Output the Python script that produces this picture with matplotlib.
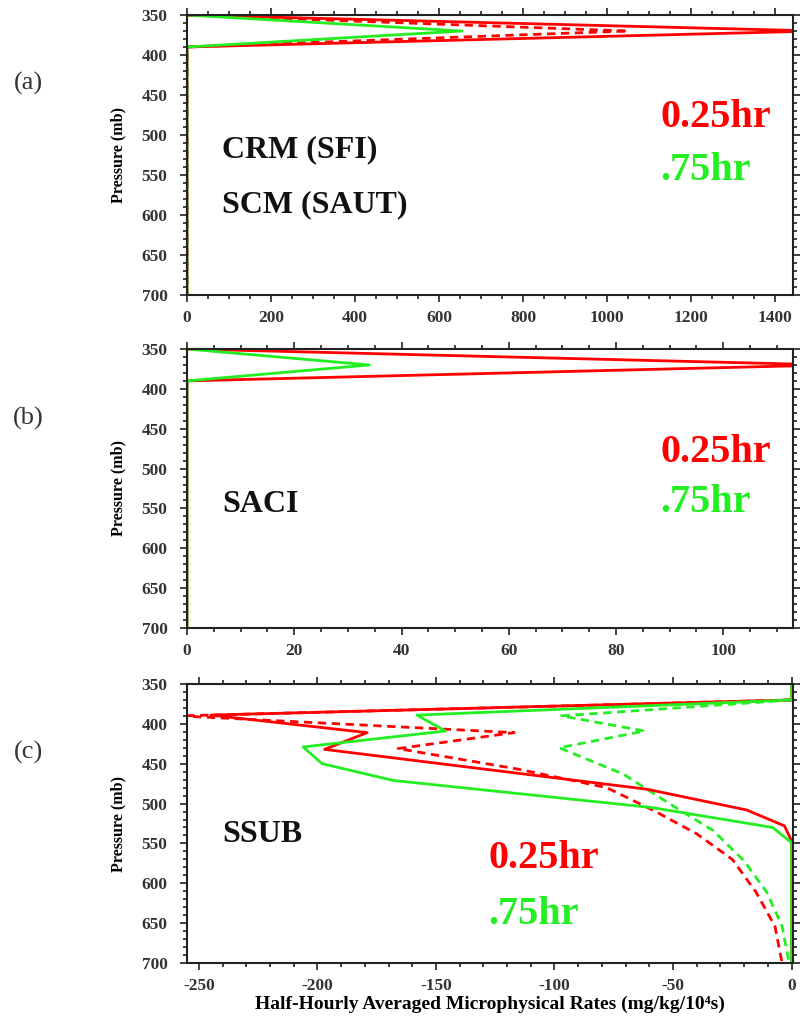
import matplotlib
matplotlib.use("Agg")
import matplotlib.pyplot as plt
from matplotlib.ticker import MultipleLocator

plt.rcParams["axes.unicode_minus"] = False

# ---------------- data ----------------
# panel (a) CRM (SFI) / SCM (SAUT)
p_ab = [350, 370, 390, 700]
a_red_solid = [0, 1500, 0, 0]
a_red_dash = [0, 1050, 0, 0]
a_green_solid = [0, 655, 0, 0]

# panel (b) SACI
b_red_solid = [0, 120, 0, 0]
b_green_solid = [0, 34, 0, 0]

# panel (c) SSUB
c_p_red_solid = [350, 370, 389, 411, 432, 482, 508, 528, 547, 700]
c_red_solid = [0, 0, -245, -179, -197, -61, -19, -3, 0, 0]
c_p_green_solid = [350, 370, 389, 409, 429, 450, 471, 505, 530, 549, 700]
c_green_solid = [0, 0, -158, -146, -206, -198, -168, -59, -8, 0, 0]
c_p_red_dash = [370, 390, 411, 431, 457, 480, 509, 538, 570, 611, 654, 700]
c_red_dash = [0, -258, -117, -166, -115, -78, -58, -40, -25, -15, -7, -4]
c_p_green_dash = [370, 390, 409, 430, 463, 501, 534, 572, 611, 654, 700]
c_green_dash = [0, -97, -62, -98, -71, -51, -33, -20, -10.5, -4, -1]

RED = "#ff0000"
GREEN = "#22ee22"
SERIF = ["Liberation Serif", "DejaVu Serif"]

W, H = 800, 1026
fig = plt.figure(figsize=(W / 100, H / 100), dpi=100)


def make_axes(top_px, bot_px):
    left = 187 / W
    width = (793 - 187) / W
    bottom = 1 - bot_px / H
    height = (bot_px - top_px) / H
    return fig.add_axes([left, bottom, width, height])


def style(ax, xlim, xmaj, xmin):
    ax.set_xlim(*xlim)
    ax.set_ylim(700, 350)
    ax.xaxis.set_major_locator(MultipleLocator(xmaj))
    ax.xaxis.set_minor_locator(MultipleLocator(xmin))
    ax.yaxis.set_major_locator(MultipleLocator(50))
    ax.yaxis.set_minor_locator(MultipleLocator(10))
    ax.tick_params(which="both", direction="out", top=True, right=True,
                   labeltop=False, labelright=False, width=1.3, color="#333333")
    ax.tick_params(which="major", length=5)
    ax.tick_params(axis="x", which="major", pad=6)
    ax.tick_params(axis="y", which="major", pad=9)
    ax.tick_params(which="minor", length=3)
    for lab in ax.get_xticklabels() + ax.get_yticklabels():
        lab.set_family(SERIF)
        lab.set_fontweight("bold")
        lab.set_fontsize(12.5)
        lab.set_color("#333333")
    for s in ax.spines.values():
        s.set_linewidth(1.5)
        s.set_color("#222222")
    ax.set_ylabel("Pressure (mb)", family=SERIF, fontweight="bold", fontsize=11.5)
    ax.yaxis.set_label_coords(-0.1, 0.5)


LW = 2.0

# ---- panel (a)
axa = make_axes(15, 295)
axa.plot(a_red_solid, p_ab, color=RED, lw=LW)
axa.plot(a_red_dash, p_ab, color=RED, lw=LW, ls=(0, (3, 2)))
axa.plot(a_green_solid, p_ab, color=GREEN, lw=LW)
style(axa, (0, 1443), 200, 50)

# ---- panel (b)
axb = make_axes(349, 628)
axb.plot(b_red_solid, p_ab, color=RED, lw=LW)
axb.plot(b_green_solid, p_ab, color=GREEN, lw=LW)
style(axb, (0, 113), 20, 5)

# ---- panel (c)
axc = make_axes(684, 963)
axc.plot(c_red_dash, c_p_red_dash, color=RED, lw=LW, ls=(0, (3, 2)))
axc.plot(c_green_dash, c_p_green_dash, color=GREEN, lw=LW, ls=(0, (3, 2)))
axc.plot(c_red_solid, c_p_red_solid, color=RED, lw=LW)
axc.plot(c_green_solid, c_p_green_solid, color=GREEN, lw=LW)
style(axc, (-255, 0.6), 50, 10)
axc.set_xlabel("Half-Hourly Averaged Microphysical Rates (mg/kg/10\u2074s)",
               family=SERIF, fontweight="bold", fontsize=14, labelpad=1)


def ftext(x, y, s, **kw):
    fig.text(x / W, 1 - y / H, s, family=SERIF, **kw)


BIG = dict(fontsize=23, fontweight="bold", va="center", ha="left")
HR = dict(fontsize=29, fontweight="bold", va="center", ha="left")
# panel labels
ftext(28, 83, "(a)", fontsize=19, ha="center", va="center", color="#333333")
ftext(28, 418, "(b)", fontsize=19, ha="center", va="center", color="#333333")
ftext(28, 752, "(c)", fontsize=19, ha="center", va="center", color="#333333")

ftext(222, 150, "CRM (SFI)", color="#111111", **BIG)
ftext(222, 205, "SCM (SAUT)", color="#111111", **BIG)
ftext(660, 118, "0.25hr", color=RED, **HR)
ftext(660, 170, ".75hr", color=GREEN, **HR)

ftext(222, 505, "SACI", color="#111111", **BIG)
ftext(660, 452, "0.25hr", color=RED, **HR)
ftext(660, 503, ".75hr", color=GREEN, **HR)

ftext(222, 835, "SSUB", color="#111111", **BIG)
ftext(488, 858, "0.25hr", color=RED, **HR)
ftext(488, 915, ".75hr", color=GREEN, **HR)

fig.savefig("out.png", dpi=100)
